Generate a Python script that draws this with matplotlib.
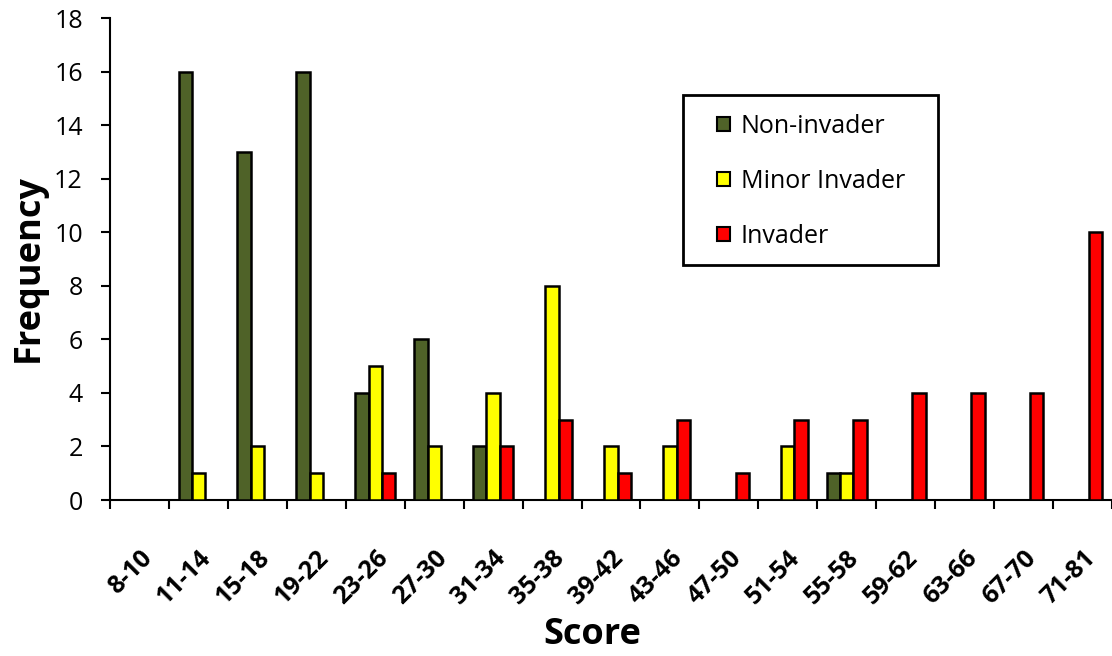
import matplotlib
matplotlib.use("Agg")
import matplotlib.pyplot as plt
from matplotlib.patches import Rectangle
import numpy as np

plt.rcParams['font.family'] = ['Open Sans', 'DejaVu Sans']

# score bins and counts per invasion class
scores = ["8-10", "11-14", "15-18", "19-22", "23-26", "27-30", "31-34", "35-38",
          "39-42", "43-46", "47-50", "51-54", "55-58", "59-62", "63-66", "67-70", "71-81"]
non_invader = [0, 16, 13, 16, 4, 6, 2, 0, 0, 0, 0, 0, 1, 0, 0, 0, 0]
minor_invader = [0, 1, 2, 1, 5, 2, 4, 8, 2, 2, 0, 2, 1, 0, 0, 0, 0]
invader = [0, 0, 0, 0, 1, 0, 2, 3, 1, 3, 1, 3, 3, 4, 4, 4, 10]

series = [("Non-invader", non_invader, "#4F6228"),
          ("Minor Invader", minor_invader, "#FFFF00"),
          ("Invader", invader, "#FF0000")]

W, H = 1112, 656
fig = plt.figure(figsize=(W / 100, H / 100), dpi=100)
ax = fig.add_axes([110 / W, 1 - 500 / H, 1 - 110 / W, (500 - 18) / H])

x = np.arange(len(scores))
w = 0.225
for i, (name, vals, col) in enumerate(series):
    ax.bar(x + (i - 1) * w, vals, w, color=col, edgecolor="black",
           linewidth=1.8, label=name, zorder=3)

ax.set_xlim(-0.5, 16.4)
ax.set_ylim(0, 18)
ax.set_yticks(range(0, 19, 2))
# major ticks sit between the groups, labels go on the group centres
ax.set_xticks(np.arange(-0.5, 17, 1))
ax.set_xticklabels([])
ax.set_xticks(x, minor=True)
ax.set_xticklabels(scores, minor=True, rotation=45, ha="right",
                   rotation_mode="anchor", fontsize=18, fontweight="bold")
ax.tick_params(axis="x", which="minor", length=0, pad=33)
ax.tick_params(axis="x", which="major", length=6.5, width=1.5, direction="out")
ax.tick_params(axis="y", length=6.5, width=1.5, direction="out", pad=13,
               labelsize=18)

for s in ["top", "right"]:
    ax.spines[s].set_visible(False)
for s in ["left", "bottom"]:
    ax.spines[s].set_linewidth(1.5)

ax.set_ylabel("Frequency", fontsize=26, fontweight="bold")
ax.yaxis.set_label_coords((47 - 110) / 1002, (500 - 268) / 482)
ax.set_xlabel("Score", fontsize=26, fontweight="bold")
ax.xaxis.set_label_coords((592 - 110) / 1002, (500 - 617) / 482)

# legend box drawn as its own rectangle
ax.add_patch(Rectangle((683 / W, 1 - 265 / H), (938 - 683) / W, 170 / H,
                       transform=fig.transFigure, facecolor="white",
                       edgecolor="black", linewidth=2, zorder=5, clip_on=False))
leg = ax.legend(loc="upper left", bbox_to_anchor=(717 / W, 1 - 114 / H),
                bbox_transform=fig.transFigure, fontsize=18, frameon=False,
                borderpad=0, labelspacing=1.2, handlelength=0.5,
                handleheight=0.5, handletextpad=0.45, borderaxespad=0)
leg.set_zorder(6)
for h in leg.legend_handles:
    h.set_linewidth(1.5)

fig.savefig("out.png", dpi=100)
